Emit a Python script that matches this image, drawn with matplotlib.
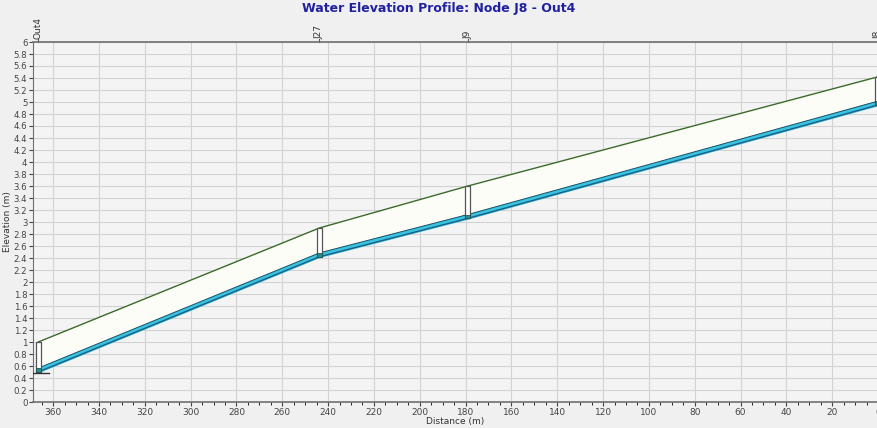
import matplotlib.pyplot as plt
import numpy as np
from matplotlib.ticker import MultipleLocator

# node data (distance from J8, m)
nodes = ['Out4', 'J27', 'J9', 'J8']
dist = [366.5, 243.8, 179.0, 0.0]
ground = [1.0, 2.9, 3.6, 5.42]
invert = [0.5, 2.42, 3.06, 4.95]
pipe_depth = 0.065
outfall_level = 0.48

fig = plt.figure(figsize=(8.78, 4.28), dpi=100, facecolor='#f0f0f0')
ax = fig.add_axes([33/878, 26/428, 845/878, 360/428])
ax.set_facecolor('#f4f4f4')

d = np.array(dist)
g = np.array(ground)
inv = np.array(invert)
crown = inv + pipe_depth

# soil band between ground and pipe crown
ax.fill_between(d, crown, g, color='#fdfdf8', zorder=2)
ax.plot(d, g, color='#3b6b2b', lw=1.0, zorder=4)

# conduit filled with water
ax.fill_between(d, inv, crown, color='#38c4e0', zorder=3)
ax.plot(d, inv, color='#1d5f86', lw=1.0, zorder=4)
ax.plot(d, crown, color='#1d4f66', lw=0.7, zorder=4)

# node shafts
w = 2.2
for x, gi, ii in zip(dist, ground, invert):
    ax.add_patch(plt.Rectangle((x - w/2, ii), w, gi - ii, facecolor='white',
                               edgecolor='#555555', lw=0.9, zorder=5))
    ax.add_patch(plt.Rectangle((x - w/2, ii), w, pipe_depth, facecolor='#2a8c8c',
                               edgecolor='#225555', lw=0.6, zorder=6))

# outfall line
ax.plot([369, 362], [outfall_level, outfall_level], color='#333333', lw=1.0, zorder=6)

ax.set_xlim(368.8, 0)
ax.set_ylim(0, 6)
ax.xaxis.set_major_locator(MultipleLocator(20))
ax.xaxis.set_minor_locator(MultipleLocator(5))
ax.yaxis.set_major_locator(MultipleLocator(0.2))
ax.yaxis.set_major_formatter(plt.FuncFormatter(lambda v, p: f'{v:g}'))
ax.grid(True, which='major', color='#d2d2d2', lw=0.8, zorder=1)
ax.set_axisbelow(True)
ax.tick_params(labelsize=6.5, colors='#444444', length=3, pad=1.5)
ax.tick_params(axis='y', labelsize=6.2, pad=1)
ax.tick_params(which='minor', length=2)
for s in ['top', 'bottom', 'left', 'right']:
    ax.spines[s].set_color('#707070')
ax.spines['top'].set_linewidth(1.2)
ax.spines['bottom'].set_linewidth(1.2)

ax.set_xlabel('Distance (m)', fontsize=6.5, labelpad=0, color='#333333')
ax.set_ylabel('Elevation (m)', fontsize=6.5, color='#333333')
ax.yaxis.set_label_coords(-0.025, 0.5)

for name, x in zip(nodes, dist):
    ax.text(x, 6.05, name, rotation=90, fontsize=6.5, ha='center', va='bottom',
            color='#333333', clip_on=False)
    ax.plot([x, x], [6, 6.05], color='#555555', lw=0.8, clip_on=False)

fig.text(0.5, 0.995, 'Water Elevation Profile: Node J8 - Out4', ha='center', va='top',
         fontsize=9, fontweight='bold', color='#2020a0')

fig.savefig('out.png', dpi=100, facecolor=fig.get_facecolor())
